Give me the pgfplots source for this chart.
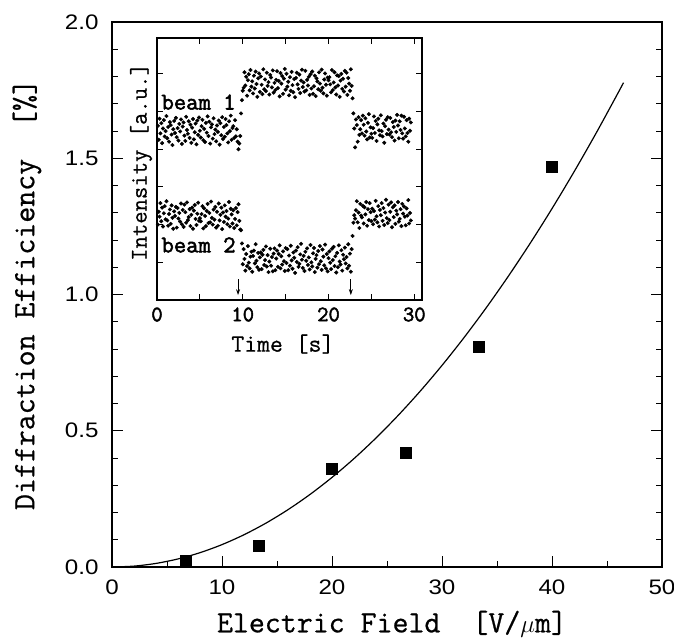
\documentclass[border=0pt]{standalone}
\usepackage{pgfplots}
\pgfplotsset{compat=1.18}
\usepackage{pgfplotstable}
\usepackage{fontspec}
\usetikzlibrary{arrows.meta}
\newfontfamily\tickfont[FakeStretch=1.15]{Liberation Sans}
\newfontfamily\ttlab[FakeBold=0.7]{Latin Modern Mono}
\newfontfamily\ttbold[FakeBold=2.2]{Latin Modern Mono}
\newcommand\itl[1]{{\ttbold\fontsize{22}{22}\selectfont #1}}

\pgfplotstableread{
t b1 b2
0.1 4.62 2.00
0.2 4.25 2.34
0.3 4.81 2.21
0.4 4.42 2.57
0.5 4.69 2.09
0.6 4.16 2.45
0.7 4.55 1.95
0.8 4.77 2.30
0.9 4.34 2.49
1.0 4.48 2.14
1.1 4.88 2.62
1.2 4.29 2.11
1.3 4.59 1.97
1.4 4.20 2.28
1.5 4.72 2.40
1.6 4.64 2.02
1.7 4.39 2.51
1.8 4.11 2.18
1.9 4.53 1.89
2.0 4.75 2.35
2.1 4.43 2.23
2.2 4.83 2.47
2.3 4.32 1.92
2.4 4.56 2.44
2.5 4.23 2.16
2.6 4.67 2.31
2.7 4.47 2.08
2.8 4.79 2.56
2.9 4.14 2.01
3.0 4.60 2.39
3.1 4.71 1.94
3.2 4.36 2.53
3.3 4.22 2.33
3.4 4.86 2.05
3.5 4.51 2.59
3.6 4.41 2.12
3.7 4.74 2.20
3.8 4.30 2.41
3.9 4.65 1.96
4.0 4.17 2.26
4.1 4.57 2.45
4.2 4.80 1.89
4.3 4.26 2.37
4.4 4.45 2.52
4.5 4.68 2.15
4.6 4.13 1.99
4.7 4.76 2.29
4.8 4.38 2.58
4.9 4.84 2.10
5.0 4.49 2.17
5.1 4.31 2.09
5.2 4.61 2.28
5.3 4.78 2.49
5.4 4.24 1.90
5.5 4.54 2.43
5.6 4.19 2.23
5.7 4.70 1.96
5.8 4.44 2.36
5.9 4.87 2.55
6.0 4.35 2.04
6.1 4.73 2.31
6.2 4.15 2.06
6.3 4.58 2.61
6.4 4.66 2.18
6.5 4.28 2.00
6.6 4.82 2.40
6.7 4.40 2.13
6.8 4.52 2.47
6.9 4.21 1.92
7.0 4.63 2.34
7.1 4.46 1.97
7.2 4.76 2.56
7.3 4.12 2.11
7.4 4.69 2.26
7.5 4.37 2.45
7.6 4.85 1.88
7.7 4.27 2.32
7.8 4.59 2.07
7.9 4.33 2.51
8.0 4.80 2.21
8.1 4.64 2.36
8.2 4.42 2.01
8.3 4.18 2.16
8.4 4.74 2.60
8.5 4.48 1.95
8.6 4.89 2.42
8.7 4.25 2.27
8.8 4.56 2.03
8.9 4.61 2.38
9.0 4.30 1.91
9.1 4.77 2.15
9.2 4.34 2.44
9.3 4.53 1.98
9.4 4.20 2.33
9.5 4.00 2.54
9.6 4.15 2.10
9.7 4.35 1.87
9.8 4.95 1.85
9.9 5.30 1.50
10.0 5.55 0.95
10.1 5.63 1.35
10.2 6.04 1.09
10.3 5.69 0.78
10.4 5.92 1.22
10.5 5.42 0.90
10.6 5.83 1.43
10.7 5.99 0.99
10.8 5.56 0.84
10.9 6.10 1.15
11.0 5.66 1.28
11.1 5.80 0.75
11.2 5.48 1.17
11.3 5.95 1.31
11.4 5.61 0.97
11.5 6.06 1.48
11.6 5.73 1.04
11.7 5.39 0.87
11.8 5.88 1.25
11.9 6.01 0.80
12.0 5.52 1.13
12.1 5.93 1.26
12.2 5.71 0.82
12.3 5.46 1.20
12.4 6.12 1.33
12.5 5.59 0.93
12.6 5.85 1.06
12.7 5.54 1.42
12.8 6.03 0.89
12.9 5.68 1.19
13.0 5.78 0.74
13.1 5.45 1.02
13.2 5.97 1.36
13.3 5.90 0.91
13.4 5.64 1.14
13.5 6.09 0.76
13.6 5.50 1.23
13.7 5.76 1.37
13.8 5.57 0.79
13.9 5.84 1.10
14.0 6.07 1.31
14.1 5.62 0.88
14.2 5.81 1.22
14.3 5.40 1.45
14.4 6.02 0.84
14.5 5.74 1.16
14.6 5.94 0.94
14.7 5.47 1.29
14.8 5.87 1.03
14.9 6.13 0.77
15.0 5.58 1.38
15.1 6.00 0.98
15.2 5.66 1.35
15.3 5.79 0.79
15.4 5.43 1.18
15.5 5.91 0.91
15.6 5.55 1.44
15.7 6.05 1.05
15.8 5.70 0.83
15.9 5.51 1.26
16.0 5.86 1.12
16.1 5.38 0.72
16.2 5.89 1.31
16.3 6.03 1.01
16.4 5.72 1.40
16.5 5.60 0.88
16.6 5.98 0.96
16.7 5.49 1.21
16.8 5.82 1.49
16.9 6.11 1.07
17.0 5.65 0.85
17.1 5.77 1.17
17.2 5.53 0.77
17.3 6.08 1.28
17.4 5.56 1.04
17.5 5.84 1.37
17.6 5.69 0.93
17.7 5.92 1.13
17.8 5.44 0.81
17.9 5.99 1.46
18.0 5.61 1.00
18.1 6.06 0.89
18.2 5.47 1.24
18.3 5.67 1.38
18.4 5.95 0.74
18.5 5.41 1.09
18.6 5.88 1.19
18.7 5.80 0.86
18.8 5.59 1.30
18.9 6.04 0.95
19.0 5.74 1.43
19.1 5.55 1.03
19.2 6.11 0.80
19.3 5.63 1.34
19.4 5.48 1.15
19.5 5.85 0.92
19.6 6.01 1.47
19.7 5.71 0.84
19.8 5.42 1.22
19.9 5.90 0.76
20.0 5.83 1.11
20.1 5.91 1.29
20.2 5.72 0.99
20.3 5.51 0.82
20.4 6.10 1.36
20.5 5.57 1.06
20.6 5.77 1.41
20.7 6.04 0.90
20.8 5.64 1.16
20.9 5.45 0.73
21.0 5.96 1.25
21.1 5.69 0.87
21.2 5.94 1.45
21.3 5.39 1.02
21.4 5.82 0.94
21.5 6.00 1.32
21.6 5.60 0.78
21.7 5.87 1.20
21.8 5.53 1.08
21.9 6.08 1.39
22.0 5.66 0.97
22.1 6.03 1.14
22.2 5.44 0.84
22.3 5.89 1.48
22.4 5.74 0.91
22.5 5.55 1.23
22.6 6.12 0.75
22.7 5.68 1.35
22.8 5.35 1.70
22.9 4.95 2.05
23.0 4.55 2.25
23.1 4.05 2.16
23.2 4.79 2.38
23.3 4.64 2.62
23.4 4.20 2.06
23.5 4.85 2.32
23.6 4.38 1.91
23.7 4.53 2.55
23.8 4.77 2.24
23.9 4.42 2.19
24.0 4.89 2.50
24.1 4.65 2.03
24.2 4.36 2.46
24.3 4.82 2.27
24.4 4.47 2.60
24.5 4.26 1.97
24.6 4.70 2.41
24.7 4.93 2.12
24.8 4.31 2.57
24.9 4.58 2.33
25.0 4.41 2.09
25.1 4.30 2.42
25.2 4.56 2.01
25.3 4.87 2.36
25.4 4.43 2.13
25.5 4.75 2.63
25.6 4.22 2.22
25.7 4.66 2.06
25.8 4.81 2.49
25.9 4.50 1.95
26.0 4.37 2.39
26.1 4.90 2.25
26.2 4.48 2.57
26.3 4.34 2.10
26.4 4.68 2.44
26.5 4.17 1.99
26.6 4.61 2.32
26.7 4.78 2.66
26.8 4.40 2.17
26.9 4.85 2.04
27.0 4.52 2.53
27.1 4.39 2.12
27.2 4.83 2.34
27.3 4.45 2.59
27.4 4.32 1.93
27.5 4.72 2.46
27.6 4.59 2.20
27.7 4.23 2.51
27.8 4.76 2.02
27.9 4.46 2.37
28.0 4.91 2.27
28.1 4.63 2.60
28.2 4.29 2.08
28.3 4.74 2.15
28.4 4.51 2.41
28.5 4.89 1.96
28.6 4.42 2.55
28.7 4.28 2.29
28.8 4.86 2.48
28.9 4.55 2.21
29.0 4.34 1.98
29.1 4.77 2.43
29.2 4.43 2.24
29.3 4.20 2.65
29.4 4.81 2.03
29.5 4.49 2.31
29.6 4.71 2.11
}\insetdata

\pgfplotstableread{
x y
0 0
2 0.0033
4 0.0132
6 0.0296
8 0.0526
10 0.0822
12 0.1184
14 0.1611
16 0.2104
18 0.2663
20 0.3288
22 0.3978
24 0.4735
26 0.5557
28 0.6444
30 0.7398
32 0.8417
34 0.9502
36 1.0653
38 1.1870
40 1.3152
42 1.4500
44 1.5914
46 1.7394
46.5 1.7773
}\fitdata

\pgfplotstableread{
x y
6.7 0.022
13.3 0.077
20.0 0.359
26.7 0.419
33.3 0.81
40.0 1.468
}\measdata

\begin{document}
\begin{tikzpicture}
\path[use as bounding box] (-112pt,-74pt) rectangle (562pt,567pt);
\begin{axis}[
  at={(0pt,0pt)}, anchor=south west,
  scale only axis, width=550pt, height=545pt,
  xmin=0, xmax=50, ymin=0, ymax=2,
  xtick={0,10,...,50}, minor x tick num=1,
  ytick={0,0.5,1,1.5,2}, minor y tick num=4,
  xtick pos=bottom, ytick pos=both,
  tick align=inside,
  major tick length=11pt, minor tick length=6pt,
  every tick/.style={black, line width=0.9pt},
  axis line style={line width=1.1pt},
  /pgf/number format/assume math mode=true,
  xticklabel style={font=\tickfont\fontsize{21}{21}\selectfont, yshift=-9pt},
  yticklabel style={font=\tickfont\fontsize{21}{21}\selectfont, xshift=-10pt,
    /pgf/number format/.cd, fixed, fixed zerofill, precision=1},
  xlabel={Electric Field~~[V/$\mu$m]},
  ylabel={Diffraction Efficiency~~[\%]},
  xlabel style={font=\ttlab\fontsize{31}{31}\selectfont,
    at={(axis description cs:0.509,-0.1046)}, anchor=center},
  ylabel style={font=\ttlab\fontsize{31}{31}\selectfont,
    at={(axis description cs:-0.1545,0.5)}, anchor=center, rotate=0},
]
\addplot[black, line width=1.2pt, smooth] table[x=x,y=y] {\fitdata};
\addplot[only marks, mark=square*, mark size=5.5pt, black] table[x=x,y=y] {\measdata};
\end{axis}

\begin{axis}[
  at={(45pt,267pt)}, anchor=south west,
  scale only axis, width=265pt, height=262pt,
  xmin=0, xmax=30.9, ymin=0, ymax=6.95,
  xtick={0,10,20,30}, xticklabels={\itl{0},\itl{10},\itl{20},\itl{30}}, minor xtick={5,15,25},
  ytick={1,2,3,4,5,6}, yticklabels={},
  xtick pos=both, ytick pos=both,
  tick align=inside,
  major tick length=6pt, minor tick length=6pt,
  every tick/.style={black, line width=0.9pt},
  axis line style={line width=1.1pt},
  axis background/.style={fill=white},
  xticklabel style={yshift=-4pt},
  xlabel={Time [s]},
  ylabel={Intensity [a.u.]},
  xlabel style={font=\ttlab\fontsize{25}{25}\selectfont,
    at={(axis description cs:0.475,-0.168)}, anchor=center},
  ylabel style={font=\ttlab\fontsize{24}{24}\selectfont,
    at={(axis description cs:-0.06,0.527)}, anchor=center},
  clip=false,
]
\addplot[only marks, mark=*, mark size=1.8pt, black] table[x=t,y=b1] {\insetdata};
\addplot[only marks, mark=*, mark size=1.8pt, black] table[x=t,y=b2] {\insetdata};
\node[anchor=west, inner sep=0pt, font=\ttbold\fontsize{24}{24}\selectfont] at (axis cs:0.5,5.25) {beam 1};
\node[anchor=west, inner sep=0pt, font=\ttbold\fontsize{24}{24}\selectfont] at (axis cs:0.5,1.46) {beam 2};
\draw[-{Stealth[length=6pt,width=4pt]}, line width=0.8pt] (axis cs:9.45,0.55) -- (axis cs:9.45,0.13);
\draw[-{Stealth[length=6pt,width=4pt]}, line width=0.8pt] (axis cs:22.6,0.55) -- (axis cs:22.6,0.13);
\end{axis}
\end{tikzpicture}
\end{document}
